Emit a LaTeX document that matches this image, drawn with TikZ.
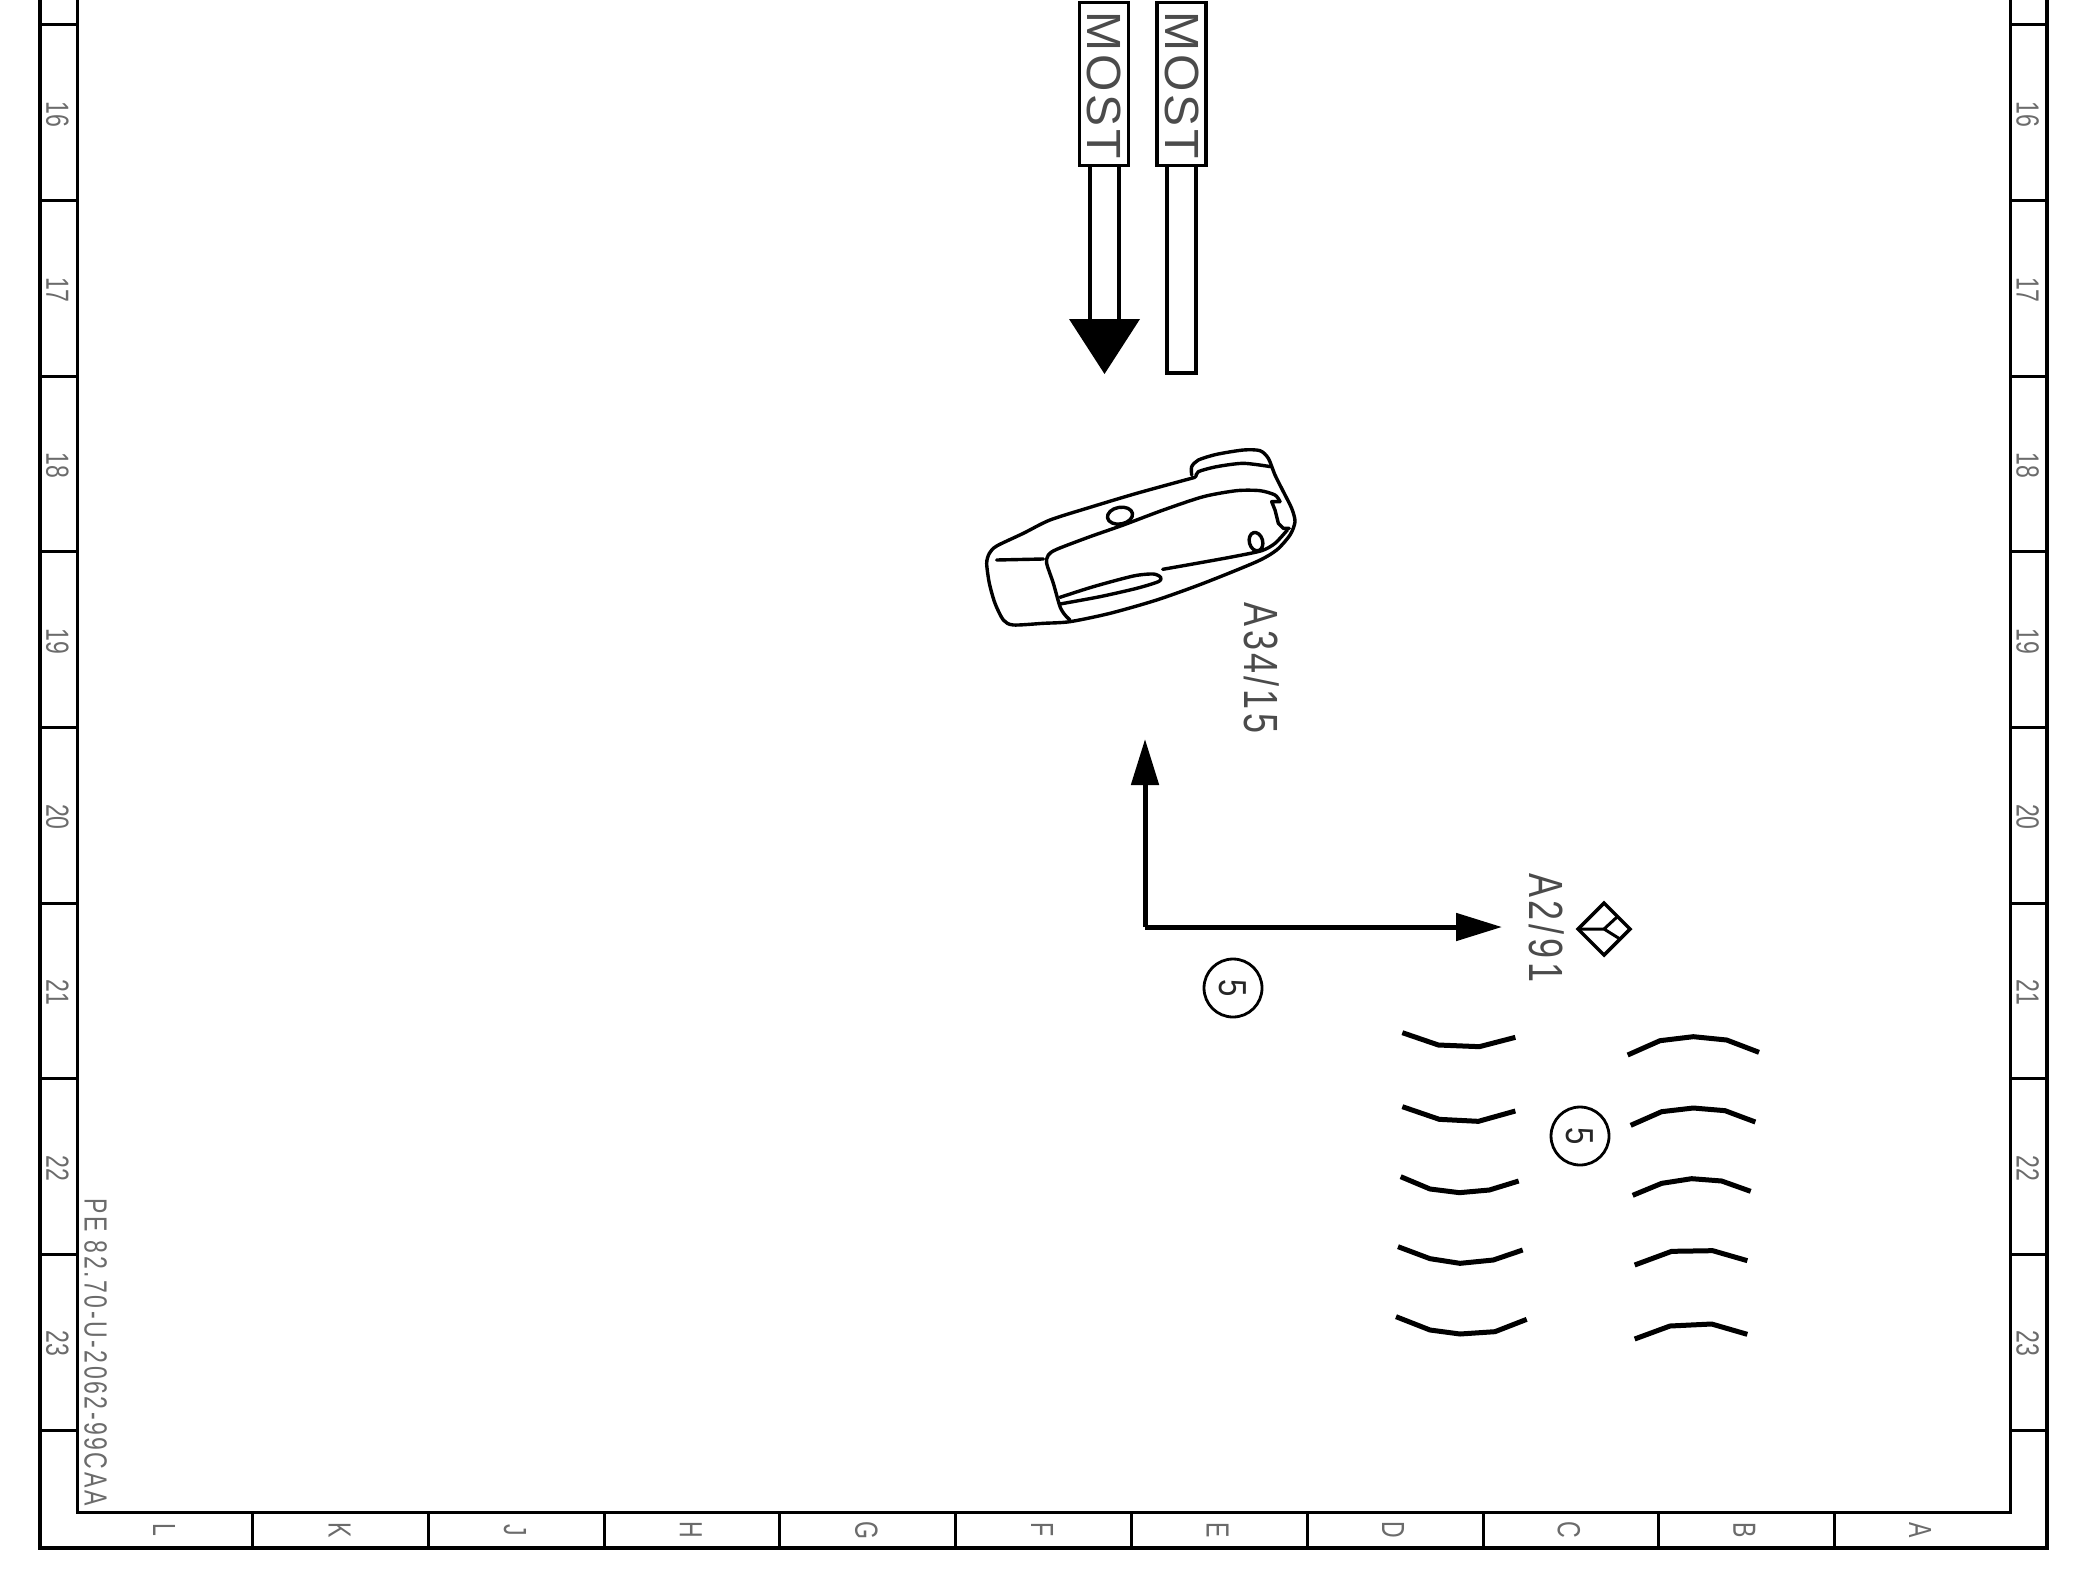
\documentclass[tikz,border=0pt]{standalone}
\usepackage{fontspec}
\setmainfont{Liberation Sans}
\usetikzlibrary{arrows.meta}
\definecolor{labgray}{gray}{0.42}
\newcommand{\sx}[2]{\scalebox{#1}[1]{#2}}
\newcommand{\spc}[1]{\addfontfeature{LetterSpace=#1}}
\tikzset{
  x=0.5pt,y=-0.5pt,
  px/.style={line width=#1*0.5pt},
  outerframe/.style={px=4.5,black},
  innerframe/.style={px=3,black},
  tickline/.style={px=3,black},
  gridlab/.style={rotate=-90,inner sep=0pt,text=labgray,text depth=0pt,text height=11.5pt,font=\fontsize{16}{16}\selectfont},
  biglab/.style={rotate=-90,inner sep=0pt,text=labgray!70!black,text depth=0pt,text height=17.2pt,font=\fontsize{24}{24}\selectfont},
  smalllab/.style={rotate=-90,inner sep=0pt,text=black!85,text depth=0pt,text height=14pt,font=\fontsize{19.5}{20}\selectfont},
  mostbox/.style={draw,px=3.5,rectangle,minimum width=49*0.5pt,minimum height=163*0.5pt,inner sep=0pt},
  shaft/.style={px=4.5,black},
  wire/.style={px=5,black,-{Triangle[length=23pt,width=13.5pt]}},
  seam/.style={px=5,black,line cap=butt,line join=round},
  circ5/.style={draw,px=2.8,circle,minimum size=58*0.5pt,inner sep=0pt},
  body/.style={px=3.4,black,line join=round,line cap=round},
}
\begin{document}
\begin{tikzpicture}
\useasboundingbox (0,0) rectangle (2080,1578);
\fill[white] (0,0) rectangle (2080,1578);
% frame
\draw[outerframe] (40,0) -- (40,1548) -- (2047,1548) -- (2047,0);
\draw[innerframe] (77,0) -- (77,1512) -- (2010,1512) -- (2010,0);
\foreach \y in {25,200.6,376.2,551.8,727.4,903,1078.6,1254.2,1430}{
  \draw[tickline] (40,\y) -- (77,\y);
  \draw[tickline] (2010,\y) -- (2047,\y);
}
\foreach \x in {252,428.2,604,779.8,955.6,1131.4,1307.2,1483,1658.6,1834}{
  \draw[tickline] (\x,1512) -- (\x,1548);
}
\foreach \n/\y in {16/114.5,17/290,18/465.7,19/641.3,20/816.9,21/992.5,22/1168,23/1343.7}{
  \node[gridlab] (l\n) at (58,\y) {\sx{.72}{\n}};
  \node[gridlab] (r\n) at (2028,\y) {\sx{.72}{\n}};
}
\foreach \t [count=\i from 0] in {L,K,J,H,G,F,E,D,C,B,A}{
  \node[gridlab] (c\t) at ({164.5+175.6*\i},1530) {\sx{.72}{\t}};
}
\node[gridlab] (pe) at (96,1352) {\sx{.72}{\spc{11}PE 82.70-U-2062-99CAA}};
% MOST boxes
\node[mostbox] (most1) at (1104,84) {};
\node[mostbox] (most2) at (1181.5,84) {};
\node[biglab] (mt1) at (1104.5,85) {\spc{6}MOST};
\node[biglab] (mt2) at (1182.5,85) {\spc{6}MOST};
\draw[shaft] (1090,165) -- (1090,322) (1119,165) -- (1119,322);
\fill[black] (1069,319) -- (1140,319) -- (1104.5,374) -- cycle;
\draw[shaft] (1167,165) -- (1167,373) -- (1196,373) -- (1196,165);
% arrows
\coordinate (elbow) at (1145,927);
\coordinate (tipup) at (1145,739);
\coordinate (tipright) at (1502,927);
\draw[wire] (elbow) -- (tipup);
\draw[wire] (elbow) -- (tipright);
% labels
\node[biglab] (a34) at (1262,668) {\sx{.75}{\spc{9}A34/15}};
\node[biglab] (a291) at (1547,928) {\sx{.75}{\spc{11}A2/91}};
\node[circ5] (c1) at (1233,988) {};
\node[smalllab] (c1t) at (1233,988) {\sx{.8}{5}};
\node[circ5] (c2) at (1580,1136) {};
\node[smalllab] (c2t) at (1580,1136) {\sx{.8}{5}};
% diamond
\draw[px=3.5,line join=miter] (1578,929) -- (1604,903) -- (1630,929) -- (1604,955) -- cycle;
\draw[px=3] (1578,929) -- (1604,929) -- (1617,917) (1604,929) -- (1620,939);
% seams
\begin{scope}[shift={(1380,1020)},scale=1/3]
\draw[seam] (67,38) -- (175,75) -- (298,80) -- (406,52);
\draw[seam] (67,260) -- (178,298) -- (295,304) -- (406,273);
\draw[seam] (62,470) -- (150,507) -- (238,518) -- (328,510) -- (416,483);
\draw[seam] (54,680) -- (150,716) -- (240,730) -- (340,720) -- (428,690);
\draw[seam] (48,890) -- (150,930) -- (240,942) -- (345,935) -- (440,898);
\draw[seam] (743,105) -- (840,62) -- (940,50) -- (1040,60) -- (1137,97);
\draw[seam] (752,316) -- (845,275) -- (940,264) -- (1035,272) -- (1126,306);
\draw[seam] (758,526) -- (845,490) -- (935,476) -- (1025,483) -- (1112,514);
\draw[seam] (764,735) -- (875,694) -- (998,692) -- (1102,722);
\draw[seam] (764,957) -- (870,918) -- (995,912) -- (1102,943);
\end{scope}
% device
\begin{scope}[shift={(950,420)},scale=1/3]
\draw[body] plot[smooth,tension=.45] coordinates {(735,172) (560,220) (420,262) (300,300) (220,340) (140,378) (118,400) (110,430) (118,490) (135,550) (160,600) (190,615) (280,610) (360,605) (480,580) (620,540) (760,490) (920,425) (980,390) (1020,345) (1035,305) (1025,265) (1000,215) (975,165) (955,115) (930,92) (880,90) (800,103) (745,120) (725,140) (725,165)};
\draw[body] plot[smooth,tension=.45] coordinates {(738,170) (745,155) (800,140) (880,130) (962,140)};
\draw[body] plot[smooth,tension=.45] coordinates {(360,600) (345,585) (330,560) (310,490) (290,430) (295,405) (320,388) (420,350) (520,315) (640,270) (760,230) (860,212) (930,212) (975,225) (990,245)};
\draw[body] (990,245) -- (965,245) -- (975,270) -- (985,310) -- (1000,325) -- (1018,325);
\draw[body] plot[smooth,tension=.45] coordinates {(1012,330) (975,370) (935,392) (850,410) (740,430) (638,448)};
\draw[body] plot[smooth,tension=.45] coordinates {(330,532) (430,500) (550,468) (610,462) (632,472) (625,485) (560,505) (450,530) (330,552)};
\draw[body] (140,420) -- (280,417);
\draw[body,rotate around={10:(510,287)}] (510,287) ellipse (38 and 25);
\draw[body,rotate around={15:(918,365)}] (918,365) ellipse (20 and 28);
\end{scope}
\end{tikzpicture}
\end{document}
